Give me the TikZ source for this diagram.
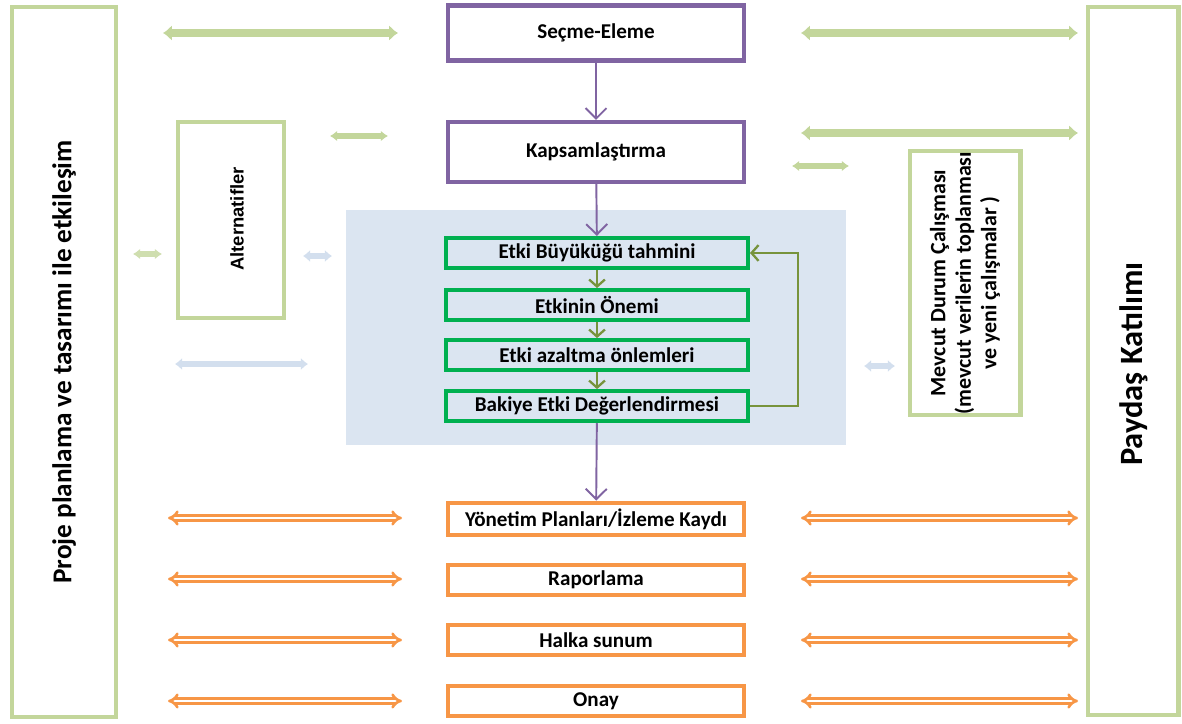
\documentclass[tikz,border=0pt]{standalone}
\usepackage{fontspec}
\setmainfont{Carlito}
\newfontfamily\altfont{Liberation Sans}
\usetikzlibrary{positioning}
\usetikzlibrary{arrows.meta}

\definecolor{stagepurple}{HTML}{8064A2}
\definecolor{loopgreen}{HTML}{00B050}
\definecolor{olive}{HTML}{77933C}
\definecolor{sidegreen}{HTML}{C3D69B}
\definecolor{outorange}{HTML}{F79646}
\definecolor{bgblue}{HTML}{DBE5F1}
\definecolor{linkblue}{HTML}{D3DFEE}

\begin{document}
\begin{tikzpicture}[
x=0.02cm, y=-0.02cm,
stagebox/.style={
	% The shape:
	rectangle,
	% The size:
	minimum width=5.92cm, minimum height=1.1cm,
	% The border:
	line width=2.3pt, draw=stagepurple,
	font=\bfseries\fontsize{12}{14}\selectfont},
loopbox/.style={
	rectangle,minimum width=6.04cm,minimum height=0.6cm,
	line width=2.3pt,draw=loopgreen,
	font=\bfseries\fontsize{12}{14}\selectfont},
outbox/.style={
	rectangle,minimum width=5.92cm,minimum height=0.6cm,
	line width=2.3pt,draw=outorange,
	font=\bfseries\fontsize{12}{14}\selectfont},
sidebox/.style={
	rectangle,line width=2.3pt,draw=sidegreen,
	inner sep=0pt},
biglink/.style={
	line width=4.5pt, sidegreen,
	{Latex[length=5pt,width=9pt]}-{Latex[length=5pt,width=9pt]}},
smalllink/.style={
	line width=3pt, sidegreen,
	{Latex[length=4pt,width=6pt]}-{Latex[length=4pt,width=6pt]}},
bluelink/.style={
	line width=3.5pt, linkblue,
	{Latex[length=4pt,width=7pt]}-{Latex[length=4pt,width=7pt]}},
orangelink/.style={
	outorange, line width=1.5pt, double=white, double distance=1.2pt,
	{Implies}-{Implies}},
flow/.style={-{Straight Barb[length=6pt,width=12pt]}, line width=1.1pt, stagepurple},
looparrow/.style={-{Straight Barb[length=4pt,width=9pt]}, line width=1.3pt, olive},
]

\useasboundingbox (0,0) rectangle (1182,723);

% side frames
\node (proje) [sidebox, minimum width=2.07cm, minimum height=14.22cm] at (64,362) {};
\node [rotate=90, font=\bfseries\fontsize{15.5}{18}\selectfont] at (proje.center) {Proje planlama ve tasarımı ile etkileşim};
\node (paydas) [sidebox, minimum width=1.82cm, minimum height=14.18cm] at (1133,361) {};
\node [rotate=90, font=\bfseries\fontsize{18.5}{21}\selectfont] at (1134,364) {Paydaş Katılımı};

\node (alt) [sidebox, minimum width=2.12cm, minimum height=3.92cm] at (231,220) {};
\node [rotate=90, font=\altfont\bfseries\fontsize{10.5}{12}\selectfont] at (237,219) {Alternatifler};
\node (mevcut) [sidebox, minimum width=2.22cm, minimum height=5.3cm] at (965,283) {};
\node [rotate=90, align=center, font=\bfseries\fontsize{12.5}{14.5}\selectfont] at (mevcut.center)
	{Mevcut Durum Çalışması\\(mevcut verilerin toplanması\\ve yeni çalışmalar )};

% shaded assessment area
\fill[bgblue] (346,210) rectangle (846,445);

% main column
\node (secme) [stagebox] at (596,33) {Seçme-Eleme};
\node (kapsam) [stagebox, minimum height=1.2cm] at (596,152) {Kapsamlaştırma};

\node (buyukluk) [loopbox] at (597,253) {Etki Büyüküğü tahmini};
\node (onem) [loopbox, below=0.36cm of buyukluk] {Etkinin Önemi};
\node (azaltma) [loopbox, below=0.32cm of onem] {Etki azaltma önlemleri};
\node (bakiye) [loopbox, below=0.34cm of azaltma] {Bakiye Etki Değerlendirmesi};

\node (yonetim) [outbox] at (596,519) {Yönetim Planları/İzleme Kaydı};
\node (rapor) [outbox] at (596,580) {Raporlama};
\node (halka) [outbox] at (596,640) {Halka sunum};
\node (onay) [outbox] at (596,701) {Onay};

\draw[flow] (secme) -- (kapsam);
\draw[flow] (kapsam) -- (buyukluk);
\draw[flow] (bakiye) -- (yonetim);

\draw[looparrow] (buyukluk) -- (onem);
\draw[looparrow] (onem) -- (azaltma);
\draw[looparrow] (azaltma) -- (bakiye);
\draw[looparrow] (bakiye.east) -- ++(48,0) |- (buyukluk.east);

% links to the side frames
\coordinate (a1) at (163,33);  \coordinate (a2) at (398,33);
\coordinate (b1) at (801,33);  \coordinate (b2) at (1078,33);
\coordinate (c1) at (330,136); \coordinate (c2) at (388,136);
\coordinate (d1) at (801,133); \coordinate (d2) at (1078,133);
\coordinate (e1) at (792,166); \coordinate (e2) at (849,166);
\draw[biglink] (a1) -- (a2);
\draw[biglink] (b1) -- (b2);
\draw[smalllink] (c1) -- (c2);
\draw[biglink] (d1) -- (d2);
\draw[smalllink] (e1) -- (e2);

\coordinate (f1) at (133,254); \coordinate (f2) at (162,254);
\draw[smalllink, sidegreen!80] (f1) -- (f2);
\coordinate (g1) at (303,256); \coordinate (g2) at (332,256);
\coordinate (h1) at (175,364); \coordinate (h2) at (308,364);
\coordinate (k1) at (864,366); \coordinate (k2) at (895,366);
\draw[bluelink] (g1) -- (g2);
\draw[bluelink] (h1) -- (h2);
\draw[bluelink] (k1) -- (k2);

\foreach \y in {518,579,640,701}{
	\coordinate (ol) at (168,\y); \coordinate (or) at (402,\y);
	\draw[orangelink] (ol) -- (or);
	\coordinate (pl) at (801,\y); \coordinate (pr) at (1078,\y);
	\draw[orangelink] (pl) -- (pr);
}

\end{tikzpicture}
\end{document}
